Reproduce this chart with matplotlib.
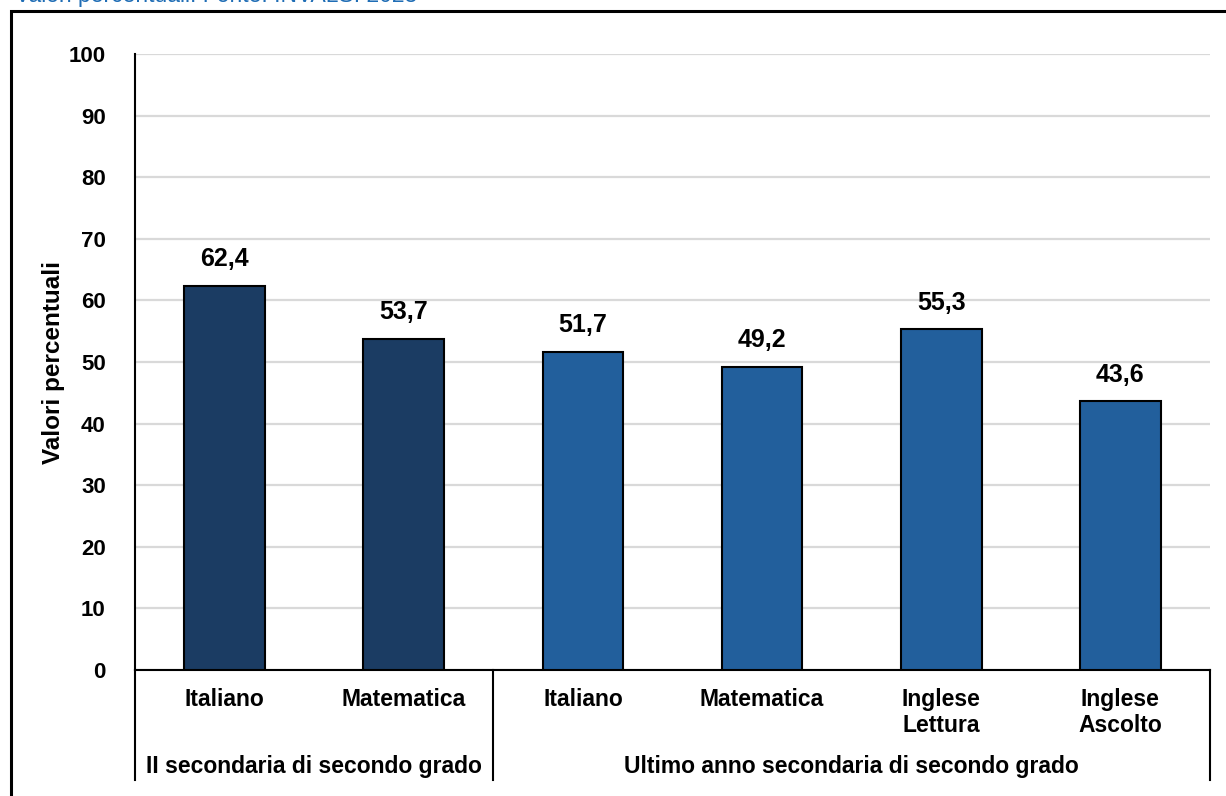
import matplotlib.pyplot as plt
import matplotlib.lines as mlines
import matplotlib.patches as mpatches

plt.rcParams["font.family"] = ["Liberation Sans", "DejaVu Sans"]

categories = ["Italiano", "Matematica", "Italiano", "Matematica",
              "Inglese\nLettura", "Inglese\nAscolto"]
values = [62.4, 53.7, 51.7, 49.2, 55.3, 43.6]
groups = ["II secondaria di secondo grado", "Ultimo anno secondaria di secondo grado"]
group_sizes = [2, 4]
group_colors = ["#1b3c63", "#225f9c"]
yticks = list(range(0, 101, 10))

W, H = 1226, 796
fig = plt.figure(figsize=(W / 100, H / 100), dpi=100)
ax = fig.add_axes([135 / W, 1 - 670 / H, (1210 - 135) / W, (670 - 54) / H])

colors = []
for c, n in zip(group_colors, group_sizes):
    colors += [c] * n
x = list(range(len(values)))
bars = ax.bar(x, values, width=0.45, color=colors, edgecolor="black",
              linewidth=1.5, zorder=3)

for xi, v in zip(x, values):
    ax.text(xi, v + 2.4, f"{v:.1f}".replace(".", ","), ha="center", va="bottom",
            fontsize=18, fontweight="bold")

ax.set_xlim(-0.5, len(values) - 0.5)
ax.set_ylim(0, 100)
ax.set_yticks(yticks)
ax.set_yticklabels([str(t) for t in yticks], fontsize=16, fontweight="bold")
ax.tick_params(axis="y", length=0, pad=21)
ax.set_xticks([])
ax.grid(axis="y", color="#d9d9d9", linewidth=1.6, zorder=0)
for s in ["top", "right"]:
    ax.spines[s].set_visible(False)
ax.spines["left"].set_linewidth(1.5)
ax.spines["bottom"].set_linewidth(1.5)

ax.set_ylabel("Valori percentuali", fontsize=17.5, fontweight="bold", labelpad=3)

# category labels under the axis
for xi, lab in zip(x, categories):
    ax.text(xi, -0.03, lab, transform=ax.get_xaxis_transform(), ha="center",
            va="top", fontsize=16.5, fontweight="bold", linespacing=1.15)

# group labels and separators
start = 0
bounds = [-0.5]
for g, n in zip(groups, group_sizes):
    mid = start + (n - 1) / 2
    ax.text(mid, -0.157, g, transform=ax.get_xaxis_transform(), ha="center",
            va="center", fontsize=16.5, fontweight="bold")
    start += n
    bounds.append(start - 0.5)
for b in bounds:
    ax.add_line(mlines.Line2D([b, b], [0, -0.178], transform=ax.get_xaxis_transform(),
                              color="black", linewidth=1.5, clip_on=False))

# outer frame (partially cut off) and clipped caption
fig.add_artist(mpatches.Rectangle((10.5 / W, -0.1), 1.2, 1 - 11 / H + 0.1,
                                  transform=fig.transFigure, fill=False,
                                  edgecolor="black", linewidth=2.2))
fig.text(15 / W, 1 - 2 / H, "Valori percentuali. Fonte: INVALSI 2023",
         color="#1f6db5", fontsize=16.5, va="baseline", ha="left")

fig.savefig("out.png", dpi=100)
